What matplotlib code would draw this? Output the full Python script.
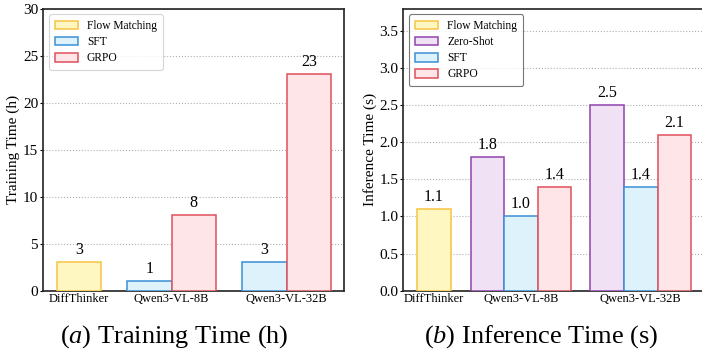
import matplotlib.pyplot as plt
import numpy as np

plt.rcParams['font.family'] = ['Liberation Serif', 'DejaVu Serif']
plt.rcParams['mathtext.fontset'] = 'custom'
plt.rcParams['mathtext.rm'] = 'Liberation Serif'
plt.rcParams['mathtext.it'] = 'Liberation Serif:italic'

# 数据
groups = ['DiffThinker', 'Qwen3-VL-8B', 'Qwen3-VL-32B']
train_methods = ['Flow Matching', 'SFT', 'GRPO']
train_vals = {'Flow Matching': [3, None, None],
              'SFT': [None, 1, 3],
              'GRPO': [None, 8, 23]}
infer_methods = ['Flow Matching', 'Zero-Shot', 'SFT', 'GRPO']
infer_vals = {'Flow Matching': [1.1, None, None],
              'Zero-Shot': [None, 1.8, 2.5],
              'SFT': [None, 1.0, 1.4],
              'GRPO': [None, 1.4, 2.1]}

face = {'Flow Matching': '#fff7c2', 'Zero-Shot': '#f1e1f4',
        'SFT': '#ddf2fb', 'GRPO': '#fde5e8'}
edge = {'Flow Matching': '#f6c443', 'Zero-Shot': '#8e44ad',
        'SFT': '#3b8fd6', 'GRPO': '#e0505c'}

fig = plt.figure(figsize=(7.02, 3.51), dpi=100)
ax1 = fig.add_axes([43 / 702, 1 - 290.7 / 351, 301.5 / 702, 282.2 / 351])
ax2 = fig.add_axes([403.3 / 702, 1 - 290.7 / 351, 301.5 / 702, 282.2 / 351])


def draw(ax, methods, vals, centers, w, fmt):
    for gi, c in enumerate(centers):
        present = [m for m in methods if vals[m][gi] is not None]
        n = len(present)
        for k, m in enumerate(present):
            x = c + (k - (n - 1) / 2) * w
            v = vals[m][gi]
            ax.bar(x, v, w, color=face[m], edgecolor=edge[m], linewidth=1.1,
                   zorder=3, label=m if gi == 0 or (m not in [b for b in methods if vals[b][0] is not None] and gi == 1) else None)
            ax.annotate(fmt.format(v), (x, v), xytext=(0, 3), textcoords='offset points',
                        ha='center', va='bottom', fontsize=11.5)
    ax.set_xticks(centers)
    ax.set_xticklabels(groups, fontsize=9)
    ax.tick_params(axis='x', length=0, pad=2)
    ax.tick_params(axis='y', labelsize=11, length=2.5, width=0.8, pad=1)
    ax.grid(axis='y', linestyle=':', color='#b0b0b0', linewidth=0.8, zorder=0)
    for s in ax.spines.values():
        s.set_linewidth(1.2)
        s.set_color('#222222')


draw(ax1, train_methods, train_vals, [0, 2.1, 4.7], 1.0, '{:g}')
ax1.set_ylim(0, 30)
ax1.set_yticks(np.arange(0, 31, 5))
ax1.set_ylabel('Training Time (h)', fontsize=11, labelpad=2)

draw(ax2, infer_methods, infer_vals, [0, 2.6, 6.17], 1.0, '{:.1f}')
ax2.set_ylim(0, 3.8)
ax2.set_yticks(np.arange(0, 3.51, 0.5))
ax2.set_yticklabels(['{:.1f}'.format(t) for t in np.arange(0, 3.51, 0.5)])
ax2.set_ylabel('Inference Time (s)', fontsize=11, labelpad=2)
# 右边框在原图中被裁掉
ax2.spines['right'].set_visible(False)

for ax, methods, ec in [(ax1, train_methods, '#cccccc'), (ax2, infer_methods, '#555555')]:
    h, l = ax.get_legend_handles_labels()
    order = [l.index(m) for m in methods]
    leg = ax.legend([h[i] for i in order], [l[i] for i in order], loc='upper left',
                    fontsize=8.3, fancybox=True, handlelength=2.0, handleheight=0.75,
                    labelspacing=0.36, borderpad=0.5, bbox_to_anchor=(0.0, 1.0))
    leg.get_frame().set_edgecolor(ec)
    leg.get_frame().set_linewidth(0.8)

fig.text(174 / 702, 8 / 351, r'$\it{(a)}$ Training Time (h)', ha='center', va='baseline', fontsize=19)
fig.text(541 / 702, 8 / 351, r'$\it{(b)}$ Inference Time (s)', ha='center', va='baseline', fontsize=19)

plt.savefig('out.png', dpi=100)
plt.close()
